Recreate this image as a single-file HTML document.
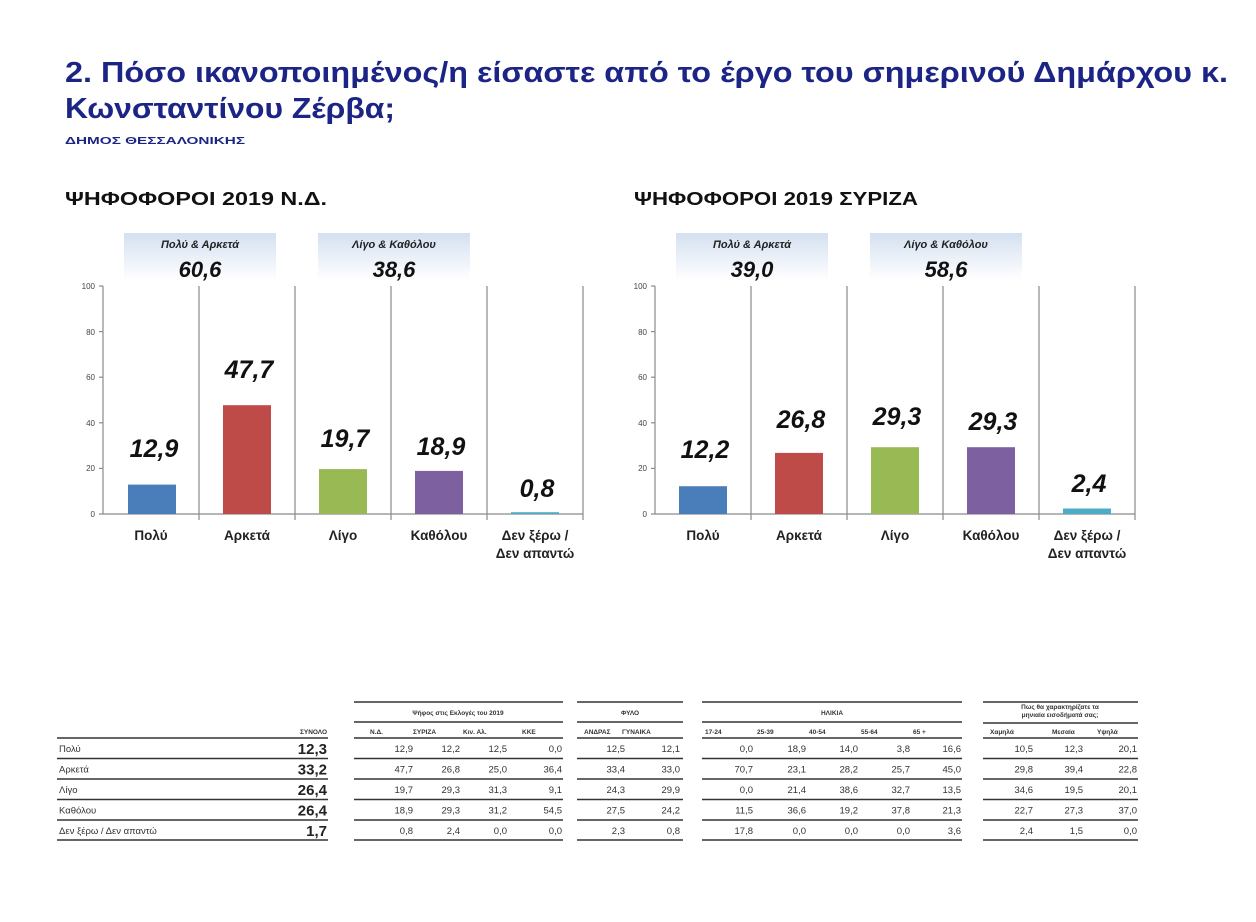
<!DOCTYPE html>
<html><head><meta charset="utf-8"><style>
body{margin:0;background:#fff}
svg{display:block}
text{font-family:"Liberation Sans","DejaVu Sans",sans-serif}
</style></head><body>
<svg width="1256" height="922" viewBox="0 0 1256 922" xmlns="http://www.w3.org/2000/svg">
<defs>
<linearGradient id="bg" x1="0" y1="0" x2="0" y2="1">
<stop offset="0" stop-color="#d4e0f0"/><stop offset="0.6" stop-color="#eef3fa"/><stop offset="1" stop-color="#ffffff"/>
</linearGradient>
</defs>
<rect width="1256" height="922" fill="#fff"/>
<text x="65" y="82" font-size="29" font-weight="bold" fill="#1c2585" textLength="1163" lengthAdjust="spacingAndGlyphs">2. Πόσο ικανοποιημένος/η είσαστε από το έργο του σημερινού Δημάρχου κ.</text>
<text x="65" y="118" font-size="29" font-weight="bold" fill="#1c2585" textLength="330" lengthAdjust="spacingAndGlyphs">Κωνσταντίνου Ζέρβα;</text>
<text x="65" y="144" font-size="10" font-weight="bold" fill="#1c2585" textLength="180" lengthAdjust="spacingAndGlyphs">ΔΗΜΟΣ ΘΕΣΣΑΛΟΝΙΚΗΣ</text>
<text x="65" y="205" font-size="18" font-weight="bold" fill="#111" textLength="262" lengthAdjust="spacingAndGlyphs">ΨΗΦΟΦΟΡΟΙ 2019 Ν.Δ.</text>
<text x="634" y="205" font-size="18" font-weight="bold" fill="#111" textLength="284" lengthAdjust="spacingAndGlyphs">ΨΗΦΟΦΟΡΟΙ 2019 ΣΥΡΙΖΑ</text>

<!-- Chart 1 -->
<g>
<rect x="124" y="233" width="152" height="48" fill="url(#bg)"/>
<rect x="318" y="233" width="152" height="48" fill="url(#bg)"/>
<text x="200" y="248" font-size="11" font-weight="bold" font-style="italic" text-anchor="middle" fill="#222">Πολύ &amp; Αρκετά</text>
<text x="200" y="277" font-size="22" font-weight="bold" font-style="italic" text-anchor="middle" fill="#111">60,6</text>
<text x="394" y="248" font-size="11" font-weight="bold" font-style="italic" text-anchor="middle" fill="#222">Λίγο &amp; Καθόλου</text>
<text x="394" y="277" font-size="22" font-weight="bold" font-style="italic" text-anchor="middle" fill="#111">38,6</text>
<g stroke="#8a8a8a" stroke-width="1.2">
<line x1="103" y1="286" x2="103" y2="514"/>
<line x1="103" y1="514" x2="583" y2="514"/>
<line x1="199" y1="286" x2="199" y2="520"/><line x1="295" y1="286" x2="295" y2="520"/>
<line x1="391" y1="286" x2="391" y2="520"/><line x1="487" y1="286" x2="487" y2="520"/><line x1="583" y1="286" x2="583" y2="520"/>
<line x1="99" y1="286" x2="103" y2="286"/><line x1="99" y1="331.6" x2="103" y2="331.6"/><line x1="99" y1="377.2" x2="103" y2="377.2"/><line x1="99" y1="422.8" x2="103" y2="422.8"/><line x1="99" y1="468.4" x2="103" y2="468.4"/><line x1="99" y1="514" x2="103" y2="514"/>
</g>
<g font-size="8" fill="#444" text-anchor="end">
<text x="95" y="289">100</text><text x="95" y="335">80</text><text x="95" y="380">60</text><text x="95" y="426">40</text><text x="95" y="471">20</text><text x="95" y="517">0</text>
</g>
<rect x="128" y="484.6" width="48" height="29.4" fill="#4a7ebb"/>
<rect x="223" y="405.2" width="48" height="108.8" fill="#be4b48"/>
<rect x="319" y="469.1" width="48" height="44.9" fill="#98b954"/>
<rect x="415" y="470.9" width="48" height="43.1" fill="#7d60a0"/>
<rect x="511" y="512.2" width="48" height="1.8" fill="#4bacc6"/>
<g font-size="25" font-weight="bold" font-style="italic" text-anchor="middle" fill="#111">
<text x="154" y="457">12,9</text><text x="249" y="378">47,7</text><text x="345" y="447">19,7</text><text x="441" y="455">18,9</text><text x="537" y="497">0,8</text>
</g>
<g font-size="13.5" font-weight="bold" text-anchor="middle" fill="#222">
<text x="151" y="540">Πολύ</text><text x="247" y="540">Αρκετά</text><text x="343" y="540">Λίγο</text><text x="439" y="540">Καθόλου</text><text x="535" y="540">Δεν ξέρω /</text><text x="535" y="558">Δεν απαντώ</text>
</g>
</g>

<!-- Chart 2 -->
<g transform="translate(552,0)">
<rect x="124" y="233" width="152" height="48" fill="url(#bg)"/>
<rect x="318" y="233" width="152" height="48" fill="url(#bg)"/>
<text x="200" y="248" font-size="11" font-weight="bold" font-style="italic" text-anchor="middle" fill="#222">Πολύ &amp; Αρκετά</text>
<text x="200" y="277" font-size="22" font-weight="bold" font-style="italic" text-anchor="middle" fill="#111">39,0</text>
<text x="394" y="248" font-size="11" font-weight="bold" font-style="italic" text-anchor="middle" fill="#222">Λίγο &amp; Καθόλου</text>
<text x="394" y="277" font-size="22" font-weight="bold" font-style="italic" text-anchor="middle" fill="#111">58,6</text>
<g stroke="#8a8a8a" stroke-width="1.2">
<line x1="103" y1="286" x2="103" y2="514"/>
<line x1="103" y1="514" x2="583" y2="514"/>
<line x1="199" y1="286" x2="199" y2="520"/><line x1="295" y1="286" x2="295" y2="520"/>
<line x1="391" y1="286" x2="391" y2="520"/><line x1="487" y1="286" x2="487" y2="520"/><line x1="583" y1="286" x2="583" y2="520"/>
<line x1="99" y1="286" x2="103" y2="286"/><line x1="99" y1="331.6" x2="103" y2="331.6"/><line x1="99" y1="377.2" x2="103" y2="377.2"/><line x1="99" y1="422.8" x2="103" y2="422.8"/><line x1="99" y1="468.4" x2="103" y2="468.4"/><line x1="99" y1="514" x2="103" y2="514"/>
</g>
<g font-size="8" fill="#444" text-anchor="end">
<text x="95" y="289">100</text><text x="95" y="335">80</text><text x="95" y="380">60</text><text x="95" y="426">40</text><text x="95" y="471">20</text><text x="95" y="517">0</text>
</g>
<rect x="127" y="486.2" width="48" height="27.8" fill="#4a7ebb"/>
<rect x="223" y="452.9" width="48" height="61.1" fill="#be4b48"/>
<rect x="319" y="447.2" width="48" height="66.8" fill="#98b954"/>
<rect x="415" y="447.2" width="48" height="66.8" fill="#7d60a0"/>
<rect x="511" y="508.5" width="48" height="5.5" fill="#4bacc6"/>
<g font-size="25" font-weight="bold" font-style="italic" text-anchor="middle" fill="#111">
<text x="153" y="458">12,2</text><text x="249" y="428">26,8</text><text x="345" y="425">29,3</text><text x="441" y="430">29,3</text><text x="537" y="492">2,4</text>
</g>
<g font-size="13.5" font-weight="bold" text-anchor="middle" fill="#222">
<text x="151" y="540">Πολύ</text><text x="247" y="540">Αρκετά</text><text x="343" y="540">Λίγο</text><text x="439" y="540">Καθόλου</text><text x="535" y="540">Δεν ξέρω /</text><text x="535" y="558">Δεν απαντώ</text>
</g>
</g>

<!-- Table -->
<g stroke="#333" stroke-width="1.5">
<line x1="354" y1="702" x2="563" y2="702"/><line x1="577" y1="702" x2="683" y2="702"/><line x1="702" y1="702" x2="962" y2="702"/><line x1="983" y1="702" x2="1138" y2="702"/>
<line x1="354" y1="722" x2="563" y2="722"/><line x1="577" y1="722" x2="683" y2="722"/><line x1="702" y1="722" x2="962" y2="722"/><line x1="983" y1="723" x2="1138" y2="723"/>
</g>
<g stroke="#333" stroke-width="1.5">
<line x1="57" y1="738" x2="328" y2="738"/><line x1="354" y1="738" x2="563" y2="738"/><line x1="577" y1="738" x2="683" y2="738"/><line x1="702" y1="738" x2="962" y2="738"/><line x1="983" y1="738" x2="1138" y2="738"/>
<line x1="57" y1="758.5" x2="328" y2="758.5"/><line x1="354" y1="758.5" x2="563" y2="758.5"/><line x1="577" y1="758.5" x2="683" y2="758.5"/><line x1="702" y1="758.5" x2="962" y2="758.5"/><line x1="983" y1="758.5" x2="1138" y2="758.5"/>
<line x1="57" y1="779" x2="328" y2="779"/><line x1="354" y1="779" x2="563" y2="779"/><line x1="577" y1="779" x2="683" y2="779"/><line x1="702" y1="779" x2="962" y2="779"/><line x1="983" y1="779" x2="1138" y2="779"/>
<line x1="57" y1="799.5" x2="328" y2="799.5"/><line x1="354" y1="799.5" x2="563" y2="799.5"/><line x1="577" y1="799.5" x2="683" y2="799.5"/><line x1="702" y1="799.5" x2="962" y2="799.5"/><line x1="983" y1="799.5" x2="1138" y2="799.5"/>
<line x1="57" y1="820" x2="328" y2="820"/><line x1="354" y1="820" x2="563" y2="820"/><line x1="577" y1="820" x2="683" y2="820"/><line x1="702" y1="820" x2="962" y2="820"/><line x1="983" y1="820" x2="1138" y2="820"/>
<line x1="57" y1="840" x2="328" y2="840"/><line x1="354" y1="840" x2="563" y2="840"/><line x1="577" y1="840" x2="683" y2="840"/><line x1="702" y1="840" x2="962" y2="840"/><line x1="983" y1="840" x2="1138" y2="840"/>
</g>
<g font-size="6.5" font-weight="bold" fill="#333">
<text x="458" y="715" text-anchor="middle">Ψήφος στις Εκλογές του 2019</text>
<text x="630" y="715" text-anchor="middle">ΦΥΛΟ</text>
<text x="832" y="715" text-anchor="middle">ΗΛΙΚΙΑ</text>
<text x="1060" y="709" text-anchor="middle">Πως θα χαρακτηρίζατε τα</text>
<text x="1060" y="717" text-anchor="middle">μηνιαία εισοδήματά σας;</text>
<text x="327" y="734" text-anchor="end">ΣΥΝΟΛΟ</text>
<text x="370" y="734">Ν.Δ.</text><text x="413" y="734">ΣΥΡΙΖΑ</text><text x="463" y="734">Κιν. Αλ.</text><text x="522" y="734">ΚΚΕ</text>
<text x="584" y="734">ΑΝΔΡΑΣ</text><text x="622" y="734">ΓΥΝΑΙΚΑ</text>
<text x="705" y="734">17-24</text><text x="757" y="734">25-39</text><text x="809" y="734">40-54</text><text x="861" y="734">55-64</text><text x="913" y="734">65 +</text>
<text x="990" y="734">Χαμηλά</text><text x="1052" y="734">Μεσαία</text><text x="1097" y="734">Υψηλά</text>
</g>
<g font-size="9.5" fill="#333">
<text x="59" y="752">Πολύ</text><text x="59" y="772.5">Αρκετά</text><text x="59" y="793">Λίγο</text><text x="59" y="813.5">Καθόλου</text><text x="59" y="834">Δεν ξέρω / Δεν απαντώ</text>
</g>
<g font-size="15" font-weight="bold" fill="#222" text-anchor="end">
<text x="327" y="754">12,3</text><text x="327" y="774.5">33,2</text><text x="327" y="795">26,4</text><text x="327" y="815.5">26,4</text><text x="327" y="836">1,7</text>
</g>
<g font-size="9.5" fill="#333" text-anchor="end">
<g transform="translate(0,752)">
<text x="413">12,9</text><text x="460">12,2</text><text x="507">12,5</text><text x="562">0,0</text><text x="625">12,5</text><text x="680">12,1</text>
<text x="753">0,0</text><text x="806">18,9</text><text x="858">14,0</text><text x="910">3,8</text><text x="961">16,6</text>
<text x="1033">10,5</text><text x="1083">12,3</text><text x="1137">20,1</text></g>
<g transform="translate(0,772.5)">
<text x="413">47,7</text><text x="460">26,8</text><text x="507">25,0</text><text x="562">36,4</text><text x="625">33,4</text><text x="680">33,0</text>
<text x="753">70,7</text><text x="806">23,1</text><text x="858">28,2</text><text x="910">25,7</text><text x="961">45,0</text>
<text x="1033">29,8</text><text x="1083">39,4</text><text x="1137">22,8</text></g>
<g transform="translate(0,793)">
<text x="413">19,7</text><text x="460">29,3</text><text x="507">31,3</text><text x="562">9,1</text><text x="625">24,3</text><text x="680">29,9</text>
<text x="753">0,0</text><text x="806">21,4</text><text x="858">38,6</text><text x="910">32,7</text><text x="961">13,5</text>
<text x="1033">34,6</text><text x="1083">19,5</text><text x="1137">20,1</text></g>
<g transform="translate(0,813.5)">
<text x="413">18,9</text><text x="460">29,3</text><text x="507">31,2</text><text x="562">54,5</text><text x="625">27,5</text><text x="680">24,2</text>
<text x="753">11,5</text><text x="806">36,6</text><text x="858">19,2</text><text x="910">37,8</text><text x="961">21,3</text>
<text x="1033">22,7</text><text x="1083">27,3</text><text x="1137">37,0</text></g>
<g transform="translate(0,834)">
<text x="413">0,8</text><text x="460">2,4</text><text x="507">0,0</text><text x="562">0,0</text><text x="625">2,3</text><text x="680">0,8</text>
<text x="753">17,8</text><text x="806">0,0</text><text x="858">0,0</text><text x="910">0,0</text><text x="961">3,6</text>
<text x="1033">2,4</text><text x="1083">1,5</text><text x="1137">0,0</text></g>
</g>
</svg>
</body></html>
